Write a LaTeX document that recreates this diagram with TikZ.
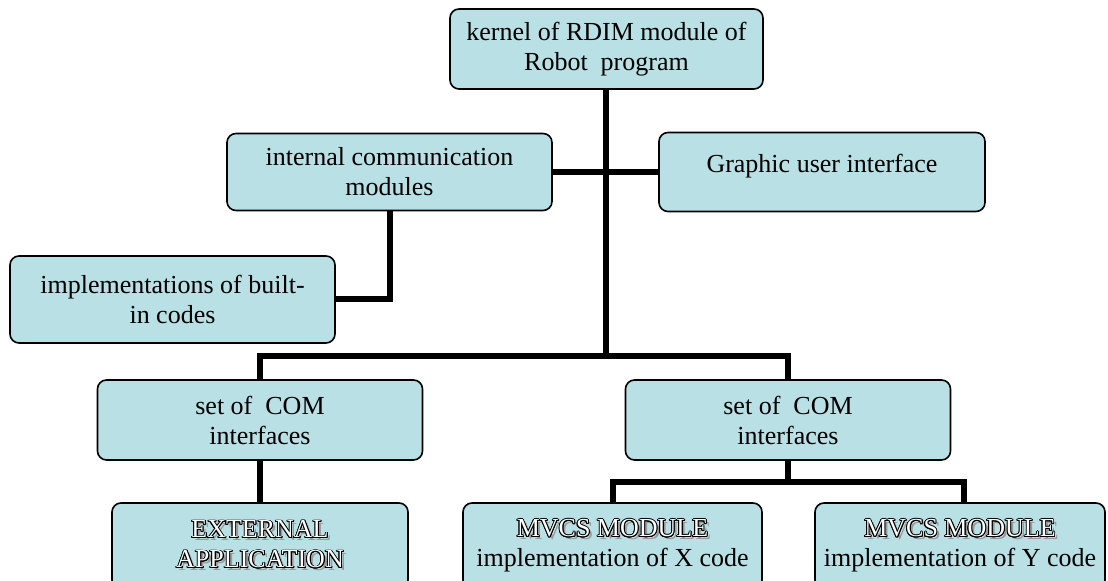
\documentclass[tikz,border=0pt]{standalone}
\usepackage{fontspec}
\setmainfont{Liberation Serif}
\usepackage{xcolor}
\usepackage{contour}
\usetikzlibrary{positioning, calc}

\definecolor{boxfill}{RGB}{185,224,228}
\contourlength{0.45pt}
% hollow letters with a grey drop shadow
\newcommand{\embossed}[1]{\leavevmode\rlap{\kern1.5pt\raisebox{-1.5pt}{\textcolor{black!40}{#1}}}\textcolor{white}{\contour{black}{#1}}}

\begin{document}
\begin{tikzpicture}[
  x=0.5pt, y=-0.5pt,
  every node/.style={font=\fontsize{13}{15}\selectfont},
  block/.style={draw=black, line width=0.8pt, fill=boxfill, rounded corners=4.5pt,
    align=center, inner sep=0pt, minimum height=40pt},
  link/.style={line width=3pt}
]
\useasboundingbox (0,0) rectangle (1108,581);

% Top level
\node[block, minimum width=156.5pt] (kernel) at (606.5,49)
  {kernel of RDIM module of\\Robot~ program};
% Second level
\node[block, minimum width=162.5pt, minimum height=38.5pt] (intcomm) at (389.5,172)
  {internal communication\\modules};
\node[block, minimum width=163pt, minimum height=39.5pt, text depth=9pt] (gui) at (822,172)
  {Graphic user interface};
\node[block, minimum width=162.5pt, minimum height=43.5pt] (builtin) at (172.5,299.5)
  {implementations of built-\\in codes};
% COM interfaces
\node[block, minimum width=162.5pt] (setL) at (260,420)
  {set of~ COM\\interfaces};
\node[block, minimum width=162.5pt] (setR) at (788,420)
  {set of~ COM\\interfaces};
% Bottom row (cut by the lower edge)
\node[block, minimum width=148pt, minimum height=43pt] (extapp) at (260,546)
  {\embossed{EXTERNAL}\\\embossed{APPLICATION}};
\node[block, minimum width=149.5pt, minimum height=43pt] (mvcsX) at (612.5,546)
  {\embossed{MVCS MODULE}\\implementation of X code};
\node[block, minimum width=145pt, minimum height=43pt] (mvcsY) at (960,546)
  {\embossed{MVCS MODULE}\\implementation of Y code};

% Junctions
\coordinate (hub) at (606,356);
\coordinate (fork) at (788,482);

% Connecting lines
\draw[link] (hub) -- (hub |- kernel.south);
\draw[link] (intcomm.east) -- (gui.west);
\draw[link] (intcomm.south) |- (builtin.east);
\draw[link] (setL.north) |- (hub) -| (setR.north);
\draw[link] (setL.south) -- (extapp.north);
\draw[link] (setR.south) -- (fork);
\draw[link] (mvcsX.north) |- (fork) -| ([xshift=2pt]mvcsY.north);

\end{tikzpicture}
\end{document}
